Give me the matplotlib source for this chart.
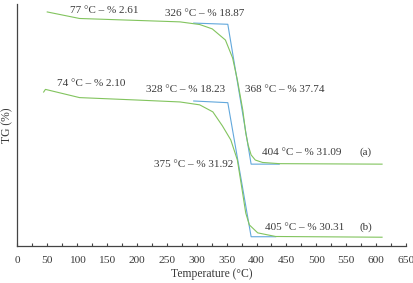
import matplotlib
matplotlib.use('Agg')
import matplotlib.pyplot as plt
from matplotlib.ticker import MultipleLocator

# --- data (y in relative units) ---

temp_a = [50, 104, 200, 272, 305, 326, 348, 360, 368, 377, 382, 386, 391, 398, 410, 438, 610]
tg_a = [96.7, 94.0, 93.2, 92.6, 91.5, 89.7, 85.1, 77.7, 68.6, 56.2, 46.7, 41.7, 37.6, 35.5, 34.5, 34.0, 33.8]

tan_temp_a = [295, 352, 391, 438]
tan_tg_a = [92.1, 91.6, 33.8, 33.8]

temp_b = [44, 47, 104, 200, 272, 305, 327, 343, 357, 368, 376, 382, 388, 402, 432, 610]
tg_b = [63.6, 64.7, 61.3, 60.3, 59.5, 58.3, 55.4, 49.6, 43.8, 35.5, 23.1, 13.6, 8.7, 5.4, 3.9, 3.6]

tan_temp_b = [295, 352, 391, 432]
tan_tg_b = [59.9, 59.2, 3.8, 3.8]

labels = ['77 °C – % 2.61', '326 °C – % 18.87', '74 °C – % 2.10', '328 °C – % 18.23',
          '368 °C – % 37.74', '375 °C – % 31.92', '404 °C – % 31.09', '405 °C – % 30.31']
label_x = [88, 247, 66, 216, 381, 229, 410, 414]
label_y = [97.5, 95.9, 67.2, 64.8, 64.8, 33.5, 38.6, 7.7]

green = '#82c45e'
blue = '#62a8dc'
txt = '#3a3a3a'

plt.rcParams['font.family'] = ['Liberation Serif', 'DejaVu Serif']

fig = plt.figure(figsize=(4.13, 2.83), dpi=100)
ax = fig.add_axes([0.042, 0.131, 0.941, 0.855])

ax.plot(tan_temp_a, tan_tg_a, color=blue, linewidth=0.8)
ax.plot(tan_temp_b, tan_tg_b, color=blue, linewidth=0.8)
ax.plot(temp_a, tg_a, color=green, linewidth=0.8)
ax.plot(temp_b, tg_b, color=green, linewidth=0.8)

for s, x, y in zip(labels, label_x, label_y):
    ax.text(x, y, s, fontsize=8, color=txt, ha='left', va='center')
ax.text(583, 38.6, '(a)', fontsize=8, color=txt, ha='center', va='center')
ax.text(583, 7.7, '(b)', fontsize=8, color=txt, ha='center', va='center')

ax.set_xlim(0, 650)
ax.set_ylim(0, 100)
ax.xaxis.set_major_locator(MultipleLocator(50))
ax.xaxis.set_minor_locator(MultipleLocator(25))
ax.set_yticks([])
ax.tick_params(axis='x', which='both', direction='in', color='#444444', labelsize=8.2, labelcolor=txt, pad=7)
ax.tick_params(axis='x', which='major', length=2.5, width=0.8)
ax.tick_params(axis='x', which='minor', length=2, width=0.8)

for side in ['top', 'right']:
    ax.spines[side].set_visible(False)
for side in ['left', 'bottom']:
    ax.spines[side].set_color('#444444')
    ax.spines[side].set_linewidth(0.9)

ax.set_xlabel('Temperature (°C)', fontsize=8.4, color=txt, labelpad=2.5)
ax.set_ylabel('TG (%)', fontsize=8.4, color=txt, labelpad=3)

fig.savefig('out.png', dpi=100)
